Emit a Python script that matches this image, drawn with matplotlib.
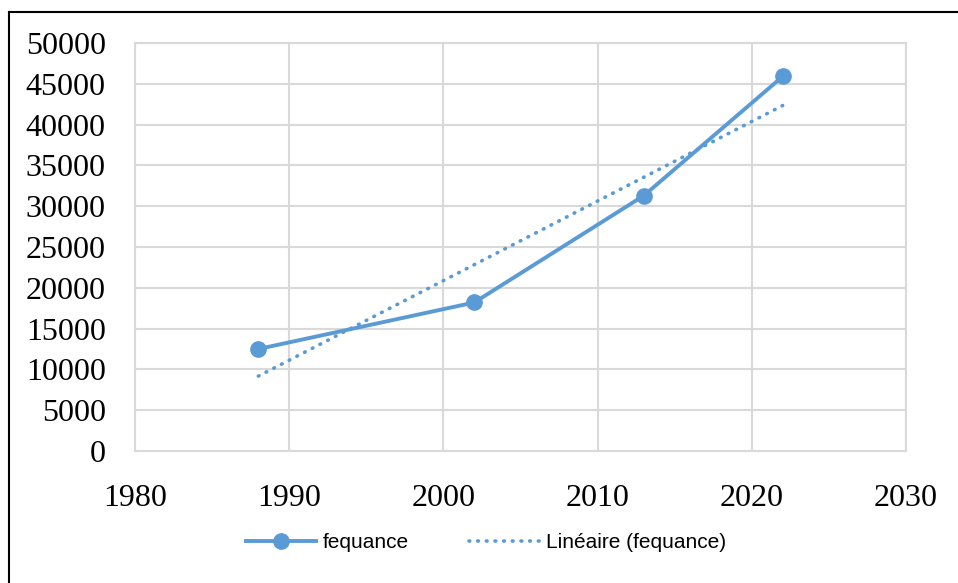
import matplotlib.pyplot as plt
import numpy as np
from matplotlib.lines import Line2D

years = [1988, 2002, 2013, 2022]
fequance = [12500, 18200, 31300, 45900]

x_ticks = [1980, 1990, 2000, 2010, 2020, 2030]
y_ticks = list(range(0, 50001, 5000))

blue = "#5b9bd5"
grid_color = "#d9d9d9"

fig = plt.figure(figsize=(9.58, 5.83), dpi=100)
ax = fig.add_axes([135 / 958, 1 - 451 / 583, (906 - 135) / 958, (451 - 43) / 583])

# linear trend line over the data range
coef = np.polyfit(years, fequance, 1)
trend_x = np.array([years[0], years[-1]])
trend_y = np.polyval(coef, trend_x)

ax.plot(years, fequance, color=blue, lw=2.8, marker="o", ms=11,
        label="fequance", zorder=3)
ax.plot(trend_x, trend_y, color=blue, lw=2.6, linestyle=(0, (0.2, 2.2)),
        dash_capstyle="round", label="Linéaire (fequance)", zorder=3)

ax.set_xlim(1980, 2030)
ax.set_ylim(0, 50000)
ax.set_xticks(x_ticks)
ax.set_yticks(y_ticks)
ax.grid(True, color=grid_color, lw=1.5)
ax.set_axisbelow(True)
for side in ax.spines.values():
    side.set_color(grid_color)
    side.set_linewidth(1.5)
ax.tick_params(length=0, labelsize=23)
ax.tick_params(axis="x", pad=24)
ax.tick_params(axis="y", pad=21)
for lbl in ax.get_xticklabels() + ax.get_yticklabels():
    lbl.set_fontfamily("Liberation Serif")

leg = fig.legend(loc="center", bbox_to_anchor=(486 / 958, 1 - 543 / 583),
                 ncol=2, frameon=False, handlelength=3.4, columnspacing=2.9,
                 handletextpad=0.3,
                 prop={"family": "Liberation Sans", "size": 15})

# outer chart frame (top and left edges)
fig.add_artist(Line2D([9 / 958, 1], [1 - 12 / 583, 1 - 12 / 583],
                      transform=fig.transFigure, color="black", lw=1.5))
fig.add_artist(Line2D([9 / 958, 9 / 958], [0, 1 - 12 / 583],
                      transform=fig.transFigure, color="black", lw=1.5))

fig.savefig("out.png", dpi=100)
